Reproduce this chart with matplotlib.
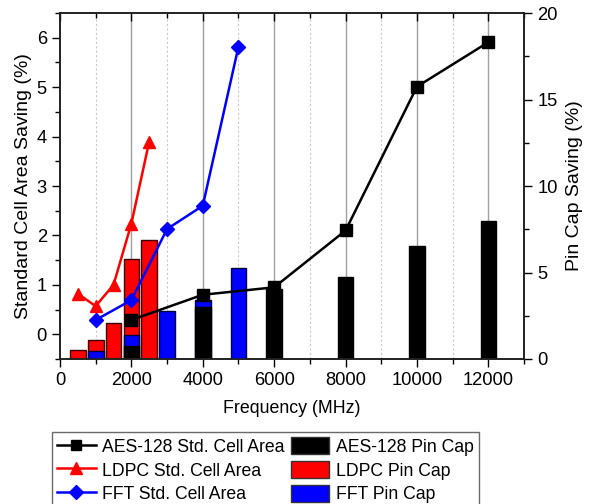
import matplotlib
matplotlib.use("Agg")
import matplotlib.pyplot as plt
from matplotlib.ticker import MultipleLocator
from matplotlib.lines import Line2D
from matplotlib.patches import Patch

plt.rcParams['font.family'] = ['Liberation Sans', 'DejaVu Sans']

# Standard cell area saving (%) vs frequency (MHz)
aes_freq = [2000, 4000, 6000, 8000, 10000, 12000]
aes_area = [0.29, 0.80, 0.95, 2.10, 5.01, 5.91]
ldpc_freq = [500, 1000, 1500, 2000, 2500]
ldpc_area = [0.82, 0.57, 1.00, 2.24, 3.90]
fft_freq = [1000, 2000, 3000, 4000, 5000]
fft_area = [0.29, 0.69, 2.13, 2.60, 5.82]

# Pin capacitance saving (%) vs frequency (MHz)
aes_pin = [0.77, 3.02, 4.06, 4.74, 6.51, 7.96]
ldpc_pin = [0.54, 1.08, 2.06, 5.78, 6.88]
fft_pin = [0.46, 1.40, 2.79, 3.41, 5.28]

fig = plt.figure(figsize=(5.95, 5.04), dpi=100)
ax = fig.add_axes([0.1008, 0.2877, 0.8808 - 0.1008, 0.9742 - 0.2877])
ax2 = ax.twinx()

bw = 440
ax2.bar(ldpc_freq, ldpc_pin, width=bw, color='#ff0000', edgecolor='#3a0000', linewidth=1.0, zorder=2)
ax2.bar(fft_freq, fft_pin, width=bw, color='#0000ff', edgecolor='#00003a', linewidth=1.0, zorder=3)
ax2.bar(aes_freq, aes_pin, width=bw, color='#000000', edgecolor='#000000', linewidth=1.0, zorder=4)
ax2.set_ylim(0, 20)
ax2.yaxis.set_major_locator(MultipleLocator(5))
ax2.yaxis.set_minor_locator(MultipleLocator(2.5))
ax2.set_ylabel('Pin Cap Saving (%)', fontsize=14, labelpad=6)

# Put line axes above bar axes
ax.set_zorder(ax2.get_zorder() + 1)
ax.patch.set_visible(False)

ax.plot(aes_freq, aes_area, color='black', marker='s', markersize=8, linewidth=1.8, zorder=5)
ax.plot(ldpc_freq, ldpc_area, color='#ff0000', marker='^', markersize=9, linewidth=1.8, zorder=5)
ax.plot(fft_freq, fft_area, color='#0000ff', marker='D', markersize=7.5, linewidth=1.8, zorder=5)

ax.set_xlim(0, 13000)
ax.set_ylim(-0.5, 6.5)
ax.xaxis.set_major_locator(MultipleLocator(2000))
ax.xaxis.set_minor_locator(MultipleLocator(1000))
ax.yaxis.set_major_locator(MultipleLocator(1))
ax.yaxis.set_minor_locator(MultipleLocator(0.5))

# vertical grid on the bar axes so it sits behind everything
for xv in range(1000, 13000, 1000):
    if xv % 2000 == 0:
        ax2.axvline(xv, color='#a0a0a0', linewidth=1.0, zorder=0)
    else:
        ax2.axvline(xv, color='#c8c8c8', linewidth=0.8, linestyle=(0, (2, 2)), zorder=0)

ax.set_xlabel('Frequency (MHz)', fontsize=12.8, labelpad=8)
ax.set_ylabel('Standard Cell Area Saving (%)', fontsize=14, labelpad=3)

ax.tick_params(axis='both', which='major', labelsize=13.2, length=6, width=1.0, direction='out')
ax.tick_params(axis='both', which='minor', length=3.5, width=1.0, direction='out')
ax.tick_params(axis='x', top=True, which='both')
ax2.tick_params(axis='y', which='major', labelsize=13.2, length=6, width=1.0, direction='out')
ax2.tick_params(axis='y', which='minor', length=3.5, width=1.0, direction='out')
for a in (ax, ax2):
    for s in a.spines.values():
        s.set_linewidth(1.2)
        s.set_color('#222222')

# top ticks point inward
for t in ax.xaxis.get_major_ticks() + ax.xaxis.get_minor_ticks():
    t.tick2line.set_marker(matplotlib.lines.TICKDOWN)

handles = [
    Line2D([], [], color='black', marker='s', markersize=7, linewidth=1.8),
    Line2D([], [], color='#ff0000', marker='^', markersize=8, linewidth=1.8),
    Line2D([], [], color='#0000ff', marker='D', markersize=7, linewidth=1.8),
    Patch(facecolor='black', edgecolor='#333333'),
    Patch(facecolor='#ff0000', edgecolor='#333333'),
    Patch(facecolor='#0000ff', edgecolor='#333333'),
]
labels = ['AES-128 Std. Cell Area', 'LDPC Std. Cell Area', 'FFT Std. Cell Area',
          'AES-128 Pin Cap', 'LDPC Pin Cap', 'FFT Pin Cap']
leg = fig.legend(handles, labels, ncol=2, loc='upper left',
                 bbox_to_anchor=(51.7 / 595, 1 - 432 / 504), borderaxespad=0.0,
                 fontsize=12.7, frameon=True, fancybox=False, edgecolor='#444444',
                 handlelength=2.2, handleheight=1.1, handletextpad=0.35,
                 columnspacing=0.35, labelspacing=0.3, borderpad=0.3)
leg.get_frame().set_linewidth(1.0)

fig.savefig('out.png', dpi=100)
